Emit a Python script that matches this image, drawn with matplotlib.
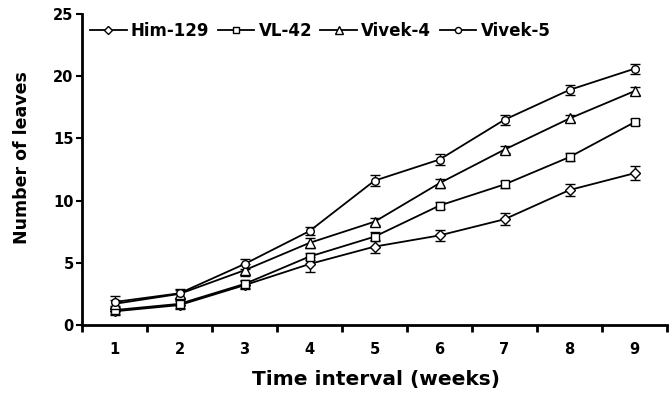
import matplotlib
matplotlib.use("Agg")
import matplotlib.pyplot as plt
from matplotlib.ticker import FixedLocator, NullFormatter
from matplotlib.lines import Line2D

weeks = [1, 2, 3, 4, 5, 6, 7, 8, 9]
series_names = ["Him-129", "VL-42", "Vivek-4", "Vivek-5"]
him129 = [1.1, 1.6, 3.2, 4.9, 6.3, 7.2, 8.5, 10.85, 12.2]
him129_err = [0.3, 0.3, 0.3, 0.6, 0.55, 0.47, 0.5, 0.5, 0.55]
vl42 = [1.2, 1.7, 3.3, 5.5, 7.1, 9.6, 11.3, 13.5, 16.3]
vl42_err = [0.3, 0.3, 0.3, 0.3, 0.35, 0.3, 0.3, 0.35, 0.25]
vivek4 = [1.7, 2.5, 4.4, 6.6, 8.3, 11.4, 14.1, 16.6, 18.8]
vivek4_err = [0.3, 0.3, 0.5, 0.4, 0.3, 0.35, 0.3, 0.25, 0.3]
vivek5 = [1.85, 2.55, 4.9, 7.55, 11.6, 13.3, 16.5, 18.9, 20.6]
vivek5_err = [0.5, 0.35, 0.4, 0.35, 0.45, 0.45, 0.4, 0.4, 0.4]
yticks = [0, 5, 10, 15, 20, 25]

W, H = 670, 395
fig = plt.figure(figsize=(W / 100, H / 100), dpi=100)
ax = fig.add_axes([82 / W, 1 - 325 / H, (667 - 82) / W, (325 - 14) / H])

styles = [("D", 5.5), ("s", 5.5), ("^", 6.5), ("o", 5.5)]
data = [(him129, him129_err), (vl42, vl42_err), (vivek4, vivek4_err), (vivek5, vivek5_err)]
handles = []
for name, (vals, errs), (mk, ms) in zip(series_names, data, styles):
    ax.errorbar(weeks, vals, yerr=errs, color="black", lw=1.3, marker=mk,
                ms=ms, mfc="white", mec="black", mew=1.0, capsize=3.3,
                elinewidth=1.0, capthick=1.0)
    handles.append(Line2D([], [], color="black", lw=1.3, marker=mk, ms=ms * 0.8,
                          mfc="white", mec="black", mew=1.0, label=name))

ax.set_xlim(0.5, 9.5)
ax.set_ylim(0, 25)
for s in ["top", "right"]:
    ax.spines[s].set_visible(False)
for s in ["left", "bottom"]:
    ax.spines[s].set_linewidth(2.0)

ax.set_yticks(yticks)
ax.set_yticklabels([str(v) for v in yticks], fontweight="bold", fontsize=10.5)
ax.tick_params(axis="y", direction="out", length=4, width=1.5, pad=2)

ax.xaxis.set_major_locator(FixedLocator([i + 0.5 for i in range(0, 10)]))
ax.xaxis.set_major_formatter(NullFormatter())
ax.xaxis.set_minor_locator(FixedLocator(weeks))
ax.set_xticklabels([str(w) for w in weeks], minor=True, fontweight="bold", fontsize=10.5)
ax.tick_params(axis="x", which="major", direction="out", length=5, width=2.0)
ax.tick_params(axis="x", which="minor", length=0, pad=12)

fig.text(376 / W, 1 - 380 / H, "Time interval (weeks)", ha="center", va="center",
         fontsize=14.5, fontweight="bold")
fig.text(22 / W, 1 - 158 / H, "Number of leaves", ha="center", va="center",
         rotation=90, fontsize=12.5, fontweight="bold")

leg = ax.legend(handles=handles, loc="center left",
                bbox_to_anchor=(8 / 585, 1 - 17 / 311), ncol=4, frameon=False,
                prop={"weight": "bold", "size": 12}, handlelength=2.2,
                handletextpad=0.25, columnspacing=0.5, borderaxespad=0.0,
                borderpad=0.0)

fig.savefig("out.png", dpi=100)
